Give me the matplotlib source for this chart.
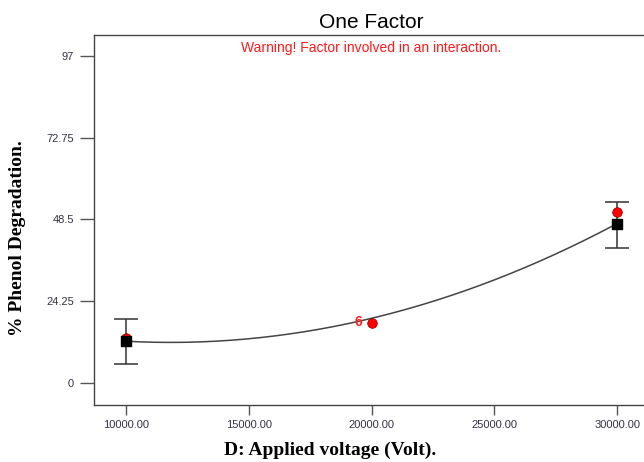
import matplotlib.pyplot as plt
import numpy as np

# design points (applied voltage) and model prediction with 95% CI
voltage = [10000, 30000]
predicted = [12.4, 47.3]
ci_low = [5.6, 40.0]
ci_high = [19.1, 53.8]

# actual observed runs
obs_voltage = [10000, 20000, 30000]
obs_value = [13.3, 17.7, 50.7]
center_reps = "6"

# quadratic fit through the prediction at low / center / high level
fit_x = [10000, 20000, 30000]
fit_y = [12.4, 19.2, 47.3]

yticks = [0, 24.25, 48.5, 72.75, 97]
yticklabels = ["0", "24.25", "48.5", "72.75", "97"]
xticks = [10000, 15000, 20000, 25000, 30000]
xticklabels = ["10000.00", "15000.00", "20000.00", "25000.00", "30000.00"]

sans = "Liberation Sans"
serif = "Liberation Serif"

fig = plt.figure(figsize=(6.44, 4.62), dpi=100)
ax = fig.add_axes([0.146, 0.1234, 0.862, 0.8009])

coef = np.polyfit(fit_x, fit_y, 2)
xs = np.linspace(10000, 30000, 200)
ax.plot(xs, np.polyval(coef, xs), color="#444444", lw=1.1, zorder=2)

yerr = [np.array(predicted) - np.array(ci_low), np.array(ci_high) - np.array(predicted)]
ax.errorbar(voltage, predicted, yerr=yerr, fmt="none", ecolor="#333333",
            elinewidth=1.1, capsize=8.5, capthick=1.1, zorder=3)

ax.scatter(obs_voltage, obs_value, s=48, color="#ff0000", edgecolor="#880000",
           linewidth=0.5, zorder=4)
ax.scatter(voltage, predicted, s=60, marker="s", color="black", zorder=5)

ax.annotate(center_reps, (obs_voltage[1], obs_value[1]), xytext=(-7, 1),
            textcoords="offset points", ha="right", va="center",
            color="#ff2020", fontsize=10, fontweight="bold", family=sans)

ax.set_xlim(8697, 31303)
ax.set_ylim(-6.5, 103.2)
ax.set_xticks(xticks)
ax.set_xticklabels(xticklabels)
ax.set_yticks(yticks)
ax.set_yticklabels(yticklabels)
for lab in ax.get_xticklabels() + ax.get_yticklabels():
    lab.set_family(sans)
    lab.set_fontsize(8)
    lab.set_color("#333344")
ax.tick_params(axis="y", direction="out", length=10, width=1, color="#555555", pad=4.5)
ax.tick_params(axis="x", direction="out", length=7, width=1, color="#555555", pad=4)
for sp in ax.spines.values():
    sp.set_color("#444444")
    sp.set_linewidth(1)

ax.set_title("One Factor", family=sans, fontsize=15, pad=5)
ax.text(0.5, 0.984, "Warning! Factor involved in an interaction.", transform=ax.transAxes,
        ha="center", va="top", color="#ff1a1a", fontsize=10, family=sans)

fig.text(330 / 644, 1 - 450 / 462, "D: Applied voltage (Volt).", ha="center", va="center",
         family=serif, fontweight="bold", fontsize=14)
fig.text(18 / 644, 1 - 238 / 462, "% Phenol Degradation.", ha="center", va="center",
         rotation=90, family=serif, fontweight="bold", fontsize=14)

fig.savefig("out.png", dpi=100)
